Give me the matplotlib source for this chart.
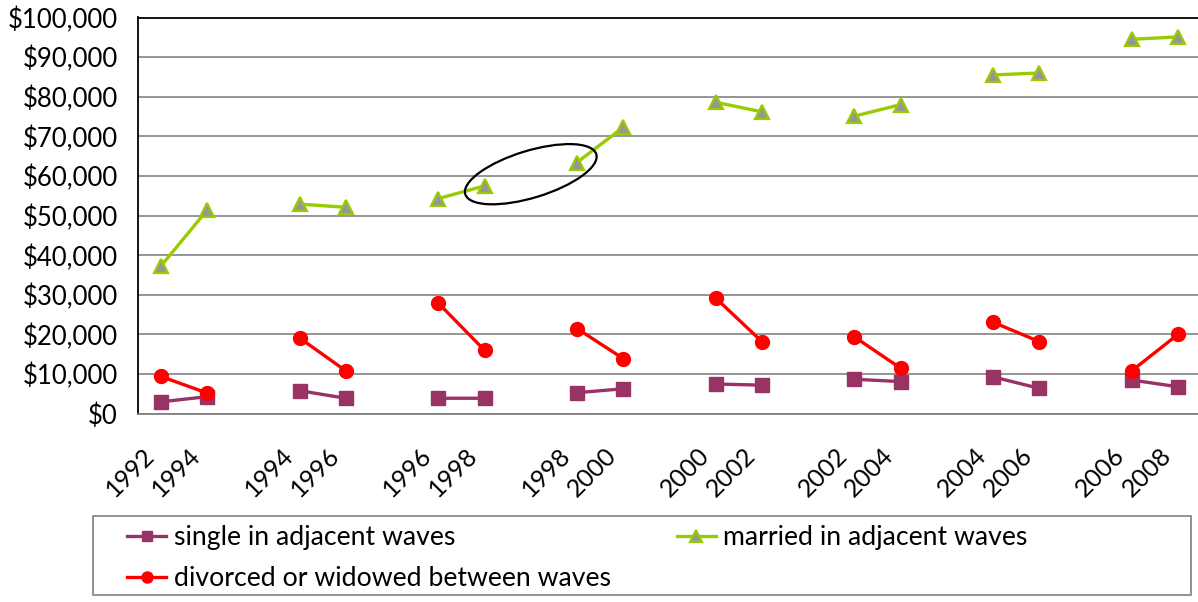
import numpy as np
import matplotlib
matplotlib.use("Agg")
import matplotlib.pyplot as plt
from matplotlib.patches import Ellipse, Rectangle
from matplotlib.transforms import ScaledTranslation
from matplotlib.ticker import FuncFormatter

plt.rcParams['font.family'] = ['Lato', 'DejaVu Sans']

# 23 category slots: 8 pairs of survey waves separated by blank slots
categories = ["1992", "1994", "", "1994", "1996", "", "1996", "1998", "",
              "1998", "2000", "", "2000", "2002", "", "2002", "2004", "",
              "2004", "2006", "", "2006", "2008"]

nan = np.nan
single = [3000, 4300, nan, 5800, 3900, nan, 3900, 3900, nan,
          5300, 6300, nan, 7500, 7200, nan, 8700, 8100, nan,
          9300, 6400, nan, 8500, 6800]
married = [37300, 51400, nan, 52900, 52100, nan, 54300, 57500, nan,
           63400, 72300, nan, 78600, 76200, nan, 75100, 78000, nan,
           85500, 86000, nan, 94500, 95100]
divorced = [9400, 5200, nan, 19100, 10800, nan, 27900, 16000, nan,
            21500, 13900, nan, 29200, 18200, nan, 19400, 11500, nan,
            23100, 18200, nan, 10800, 20000]

labels = ["single in adjacent waves", "married in adjacent waves",
          "divorced or widowed between waves"]

W, H = 1198, 602
fig = plt.figure(figsize=(W / 100, H / 100), dpi=100)
left, right, bottom, top = 137.9, 1201.0, 413.7, 17.5
ax = fig.add_axes([left / W, 1 - bottom / H, (right - left) / W, (bottom - top) / H])

x = np.arange(len(categories))
purple = "#993366"
green = "#99CC00"
red = "#FF0000"
grey = "#969696"

l1, = ax.plot(x, single, color=purple, lw=2.4, marker='s', ms=9.5,
              mfc=purple, mec=purple, zorder=3)
l2, = ax.plot(x, married, color=green, lw=2.4, marker='^', ms=10,
              mfc=grey, mec=green, mew=1.6, zorder=3)
l3, = ax.plot(x, divorced, color=red, lw=2.4, marker='o', ms=10,
              mfc=red, mec=red, zorder=4)

ax.set_xlim(-0.5, len(categories) - 0.5)
ax.set_ylim(0, 100000)
ax.set_yticks(np.arange(0, 100001, 10000))
ax.yaxis.set_major_formatter(FuncFormatter(lambda v, p: "${:,.0f}".format(v)))
ax.grid(axis='y', color='#8c8c8c', lw=1.3)
ax.set_axisbelow(True)
ax.tick_params(axis='y', length=0, pad=14.5, labelsize=18.5)
ax.tick_params(axis='x', length=0, pad=27.5, labelsize=18)
ax.set_xticks(x)
ax.set_xticklabels(categories, rotation=45, ha='right', va='center',
                   rotation_mode='anchor')
for lbl in ax.get_xticklabels():
    lbl.set_transform(lbl.get_transform() + ScaledTranslation(-10.5 / 100, 0, fig.dpi_scale_trans))

ax.spines['right'].set_visible(False)
ax.spines['top'].set_color('black')
ax.spines['top'].set_linewidth(1.3)
ax.spines['left'].set_color('black')
ax.spines['left'].set_linewidth(1.3)
ax.spines['bottom'].set_color('#808080')
ax.spines['bottom'].set_linewidth(1.3)

# annotation ellipse around the 1996-1998 / 1998-2000 gap
ell = Ellipse((0, 0), width=1.37, height=0.47, angle=17, fill=False,
              edgecolor='black', lw=1.6,
              transform=fig.dpi_scale_trans + ScaledTranslation(8.0, 60450, ax.transData),
              zorder=5, clip_on=False)
ax.add_patch(ell)

# legend box
fig.patches.append(Rectangle((93 / W, 1 - 595 / H), (1191 - 93) / W, (595 - 516) / H,
                             transform=fig.transFigure, fill=False,
                             edgecolor='#808080', lw=1.2))
leg = fig.legend([l1, l3, l2], [labels[0], labels[2], labels[1]], ncol=2,
                 loc='upper left', bbox_to_anchor=(127 / W, 1 - 525 / H),
                 frameon=False, borderpad=0, borderaxespad=0, fontsize=19.2,
                 handlelength=1.48, handletextpad=0.27, columnspacing=2.47,
                 labelspacing=0.61, markerscale=0.8)

fig.savefig("out.png", dpi=100)
